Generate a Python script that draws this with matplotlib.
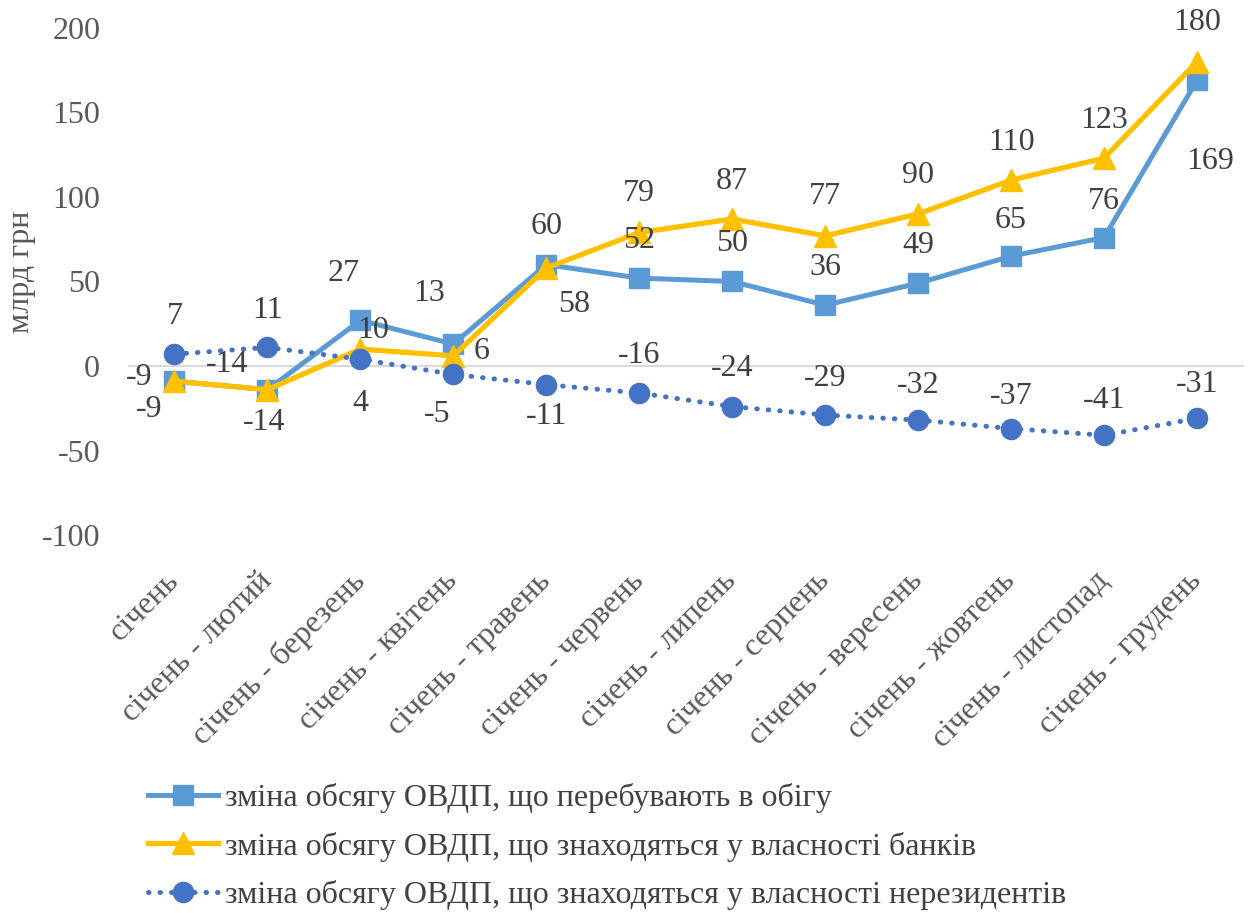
import matplotlib
matplotlib.use("Agg")
import matplotlib.pyplot as plt
from matplotlib.lines import Line2D

plt.rcParams['font.family'] = ['Liberation Serif', 'DejaVu Serif']

categories = ["січень", "січень - лютий", "січень - березень", "січень - квітень",
              "січень - травень", "січень - червень", "січень - липень", "січень - серпень",
              "січень - вересень", "січень - жовтень", "січень - листопад", "січень - грудень"]
circulation = [-9, -14, 27, 13, 60, 52, 50, 36, 49, 65, 76, 169]
banks = [-9, -14, 10, 6, 58, 79, 87, 77, 90, 110, 123, 180]
nonresidents = [7, 11, 4, -5, -11, -16, -24, -29, -32, -37, -41, -31]

series_names = ["зміна обсягу ОВДП, що перебувають в обігу",
                "зміна обсягу ОВДП, що знаходяться у власності банків",
                "зміна обсягу ОВДП, що знаходяться у власності нерезидентів"]
y_ticks = [-100, -50, 0, 50, 100, 150, 200]

# label offsets in pixels (dx, dy) with dy positive upwards
off_circ = [(-35, 4), (-40, 25), (-17, 47), (-24, 51), (0, 38), (0, 38), (0, 38),
            (0, 38), (0, 38), (0, 36), (0, 36), (13, -81)]
off_banks = [(-25, -28), (-3, -33), (13, 19), (28, 4), (28, -37), (0, 39), (0, 37),
             (0, 39), (0, 38), (0, 38), (0, 38), (0, 39)]
off_nonres = [(0, 38), (0, 37), (0, -44), (-16, -40), (0, -32), (0, 38), (0, 38),
              (0, 37), (0, 35), (0, 32), (0, 35), (0, 34)]

C_BLUE = "#5B9BD5"
C_YEL = "#FFC000"
C_DARK = "#4472C4"
TXT = "#404040"
GRAY = "#595959"

fig = plt.figure(figsize=(12.51, 9.13), dpi=100)
ax = fig.add_axes([128 / 1251, 1 - 535 / 913, 1115.5 / 1251, 507 / 913])

x = list(range(len(categories)))
ax.plot(x, circulation, color=C_BLUE, lw=3.6, marker='s', ms=15, zorder=3,
        solid_joinstyle='round')
ax.plot(x, banks, color=C_YEL, lw=3.8, marker='^', ms=16, zorder=4,
        solid_joinstyle='round')
ax.plot(x, nonresidents, color=C_DARK, lw=3.6, marker='o', ms=14.5, zorder=5,
        linestyle=(0, (0.1, 2.2)), dash_capstyle='round')

ax.axhline(0, color="#D9D9D9", lw=1.5, zorder=1)

fs = 23
for vals, offs in ((circulation, off_circ), (banks, off_banks), (nonresidents, off_nonres)):
    for xi, v, (dx, dy) in zip(x, vals, offs):
        ax.annotate(str(v), (xi, v), xytext=(dx, dy), textcoords='offset pixels',
                    ha='center', va='center', fontsize=fs, color=TXT, zorder=6)

ax.set_xlim(-0.5, len(categories) - 0.5)
ax.set_ylim(-100, 200)
ax.set_yticks(y_ticks)
ax.set_yticklabels([str(t) for t in y_ticks], fontsize=fs, color=GRAY)
ax.set_xticks(x)
ax.set_xticklabels(categories, rotation=45, ha='right', va='center',
                   rotation_mode='anchor', fontsize=fs, color=GRAY)
ax.tick_params(axis='both', length=0)
ax.tick_params(axis='y', pad=20)
ax.tick_params(axis='x', pad=30)
for s in ax.spines.values():
    s.set_visible(False)
fig.text(22 / 1251, 1 - 272 / 913, "млрд грн", rotation=90, ha='center', va='center',
         fontsize=fs, color=GRAY)

handles = [
    Line2D([], [], color=C_BLUE, lw=3.6, marker='s', ms=15),
    Line2D([], [], color=C_YEL, lw=3.8, marker='^', ms=16),
    Line2D([], [], color=C_DARK, lw=3.6, marker='o', ms=14.5,
           linestyle=(0, (0.1, 2.2)), dash_capstyle='round'),
]
fig.legend(handles, series_names, loc='upper left', bbox_to_anchor=(148 / 1251, 1 - 783 / 913),
           frameon=False, fontsize=fs, handlelength=2.2, handletextpad=0.22,
           labelspacing=0.58, borderaxespad=0, borderpad=0, labelcolor=TXT)

fig.savefig("out.png", dpi=100)
